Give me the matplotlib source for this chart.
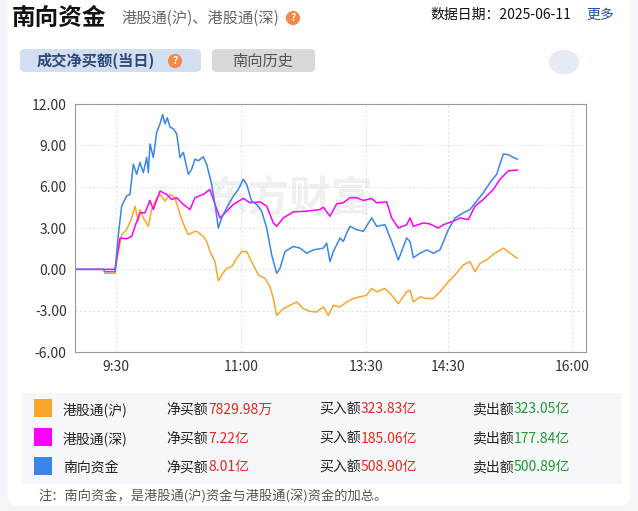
import matplotlib
matplotlib.use("Agg")
import matplotlib.pyplot as plt
from matplotlib.patches import FancyBboxPatch, Rectangle, Circle
import numpy as np

plt.rcParams["font.family"] = ["Noto Sans CJK SC", "DejaVu Sans"]

# time index (chart units) and values in 亿元
blue_x = [45, 130, 135, 165, 175, 185, 200, 210, 220, 230, 240, 250, 260, 265, 270, 280, 290, 300, 308, 315,
          322, 330, 340, 350, 360, 370, 385, 395, 405, 415, 430, 440, 455, 465, 475, 485, 500, 520, 535, 550,
          560, 575, 590, 605, 620, 635, 650, 660, 675, 700, 720, 740, 760, 790, 800, 810, 820, 840, 850, 860,
          870, 890, 910, 935, 950, 975, 995, 1015, 1040, 1050, 1060, 1080, 1100, 1120, 1140, 1165, 1185, 1210,
          1230, 1250, 1270, 1290, 1310, 1330, 1345, 1360, 1372]
blue_y = [0, 0, -0.17, -0.17, 2.51, 4.59, 5.32, 5.44, 7.63, 6.90, 7.76, 7.02, 8.12, 7.02, 9.10, 8.12, 9.95, 10.56,
          11.24, 10.56, 11.00, 10.32, 10.20, 9.83, 8.12, 8.49, 6.90, 7.27, 8.00, 7.88, 8.17, 7.63, 6.17, 4.71,
          3.00, 3.73, 4.46, 5.32, 5.80, 6.54, 6.17, 4.95, 4.71, 4.22, 3.00, 1.05, -0.29, 0.07, 1.29, 1.66, 1.54,
          1.17, 1.41, 1.54, 1.90, 0.56, 1.29, 2.27, 2.02, 2.63, 3.12, 2.88, 2.76, 3.73, 3.12, 3.24, 2.02, 0.68,
          2.27, 2.02, 0.85, 1.17, 1.41, 1.17, 1.41, 2.88, 3.73, 4.10, 4.34, 4.95, 5.56, 6.29, 6.90, 8.37, 8.32,
          8.12, 8.00]

pink_x = [45, 165, 180, 200, 215, 225, 240, 255, 270, 280, 300, 320, 335, 350, 370, 390, 405, 430, 450, 465,
          480, 500, 520, 550, 570, 600, 620, 640, 650, 670, 700, 740, 780, 790, 810, 830, 850, 870, 890, 910,
          935, 950, 980, 995, 1015, 1040, 1050, 1060, 1090, 1110, 1135, 1150, 1180, 1200, 1225, 1245, 1270,
          1300, 1320, 1345, 1372]
pink_y = [0, 0, 2.27, 2.22, 2.39, 3.12, 4.10, 4.10, 5.00, 4.34, 5.68, 5.44, 5.07, 5.20, 4.71, 4.34, 5.20, 5.44,
          5.80, 4.71, 3.73, 4.22, 4.71, 5.15, 4.83, 4.90, 4.59, 3.37, 3.12, 3.73, 4.17, 4.22, 4.34, 4.51, 3.85,
          4.76, 4.83, 5.20, 5.20, 5.00, 5.15, 4.83, 4.90, 3.73, 3.00, 3.24, 3.73, 3.12, 3.37, 3.29, 3.00, 3.24,
          3.49, 3.73, 3.61, 4.59, 5.07, 5.80, 6.54, 7.15, 7.20]

orange_x = [45, 130, 135, 165, 175, 185, 200, 215, 225, 235, 240, 250, 265, 275, 290, 300, 315, 330, 345, 360,
            375, 385, 400, 410, 430, 440, 450, 465, 475, 485, 500, 515, 530, 545, 560, 575, 595, 615, 630, 640,
            650, 670, 690, 710, 730, 750, 770, 790, 805, 820, 840, 860, 880, 900, 920, 935, 950, 975, 995, 1015,
            1040, 1050, 1060, 1080, 1100, 1120, 1140, 1165, 1185, 1210, 1230, 1245, 1260, 1280, 1300, 1330,
            1350, 1372]
orange_y = [0, 0, -0.29, -0.29, 1.29, 2.51, 2.88, 3.73, 4.59, 3.49, 4.34, 3.73, 3.12, 4.34, 5.20, 5.44, 4.95,
            5.44, 5.20, 3.98, 3.00, 2.51, 2.71, 2.76, 2.39, 2.02, 1.29, 0.56, -0.85, -0.41, 0.07, 0.20, 0.80,
            1.29, 1.29, 0.56, -0.41, -0.66, -1.27, -2.12, -3.34, -2.85, -2.61, -2.37, -2.85, -3.05, -3.10, -2.73,
            -3.34, -2.61, -2.73, -2.37, -2.12, -2.00, -1.88, -1.39, -1.63, -1.39, -1.88, -2.49, -1.63, -1.51,
            -2.37, -2.00, -2.12, -2.12, -1.63, -0.90, -0.41, 0.32, 0.56, -0.17, 0.44, 0.68, 1.10, 1.54, 1.17, 0.80]

tick_labels = ["9:30", "11:00", "13:30", "14:30", "16:00"]
tick_pos = [168, 543, 918, 1165, 1536]
y_ticks = [-6, -3, 0, 3, 6, 9, 12]

names = ["港股通(沪)", "港股通(深)", "南向资金"]
colors = ["#f9a72b", "#f0f", "#3a86e8"]
net_buy = ["7829.98万", "7.22亿", "8.01亿"]
buy_amt = ["323.83亿", "185.06亿", "508.90亿"]
sell_amt = ["323.05亿", "177.84亿", "500.89亿"]

fig = plt.figure(figsize=(6.38, 5.11), dpi=100)
fig.patch.set_facecolor("#f3f5f8")
card = FancyBboxPatch((0.012, 0.01), 0.976, 1.2, boxstyle="round,pad=0,rounding_size=0.02",
                      transform=fig.transFigure, facecolor="white", edgecolor="none", zorder=-10)
fig.patches.append(card)

ax = fig.add_axes([75/638, 1-352/511, (586-75)/638, (352-104)/511])
ax.set_zorder(5)
ax.patch.set_alpha(0)
ax.plot(orange_x, orange_y, color=colors[0], lw=1.1)
ax.plot(pink_x, pink_y, color=colors[1], lw=1.1)
ax.plot(blue_x, blue_y, color=colors[2], lw=1.1)
ax.set_xlim(45, 1578)
ax.set_ylim(-6, 12)
ax.set_xticks(tick_pos)
ax.set_xticklabels(tick_labels)
ax.set_yticks(y_ticks)
ax.set_yticklabels([f"{v:.2f}" for v in y_ticks])
ax.grid(True, color="#dde6f0", ls=(0, (2, 2)), lw=0.8)
for s in ax.spines.values():
    s.set_color("#999999")
ax.tick_params(length=0, labelsize=10, colors="#333333", pad=6)
ax.text(0.42, 0.62, "东方财富", transform=ax.transAxes, fontsize=30, color="#f0f0f0",
        fontweight="bold", ha="center", va="center", zorder=0)


def fy(p):
    return 1 - p / 511


def fx(p):
    return p / 638


def qmark(x, y):
    fig.text(fx(x), fy(y), "?", fontsize=7.5, color="white", ha="center", va="center", fontweight="bold",
             bbox=dict(boxstyle="circle,pad=0.2", fc="#f08a4b", ec="none"))


fig.text(fx(12), fy(18), "南向资金", fontsize=17, fontweight="bold", va="center", color="#111")
fig.text(fx(121), fy(18), "港股通(沪)、港股通(深)", fontsize=11, va="center", color="#666")
qmark(293, 18)
fig.text(fx(430), fy(15), "数据日期：2025-06-11", fontsize=10, va="center", color="#111")
fig.text(fx(586), fy(15), "更多", fontsize=10, va="center", color="#1a4fa0")

fig.patches.append(FancyBboxPatch((fx(20), fy(72)), 181/638, 23/511, boxstyle="round,pad=0,rounding_size=0.008",
                                  transform=fig.transFigure, facecolor="#d3dff0", edgecolor="none"))
fig.text(fx(37), fy(61), "成交净买额(当日)", fontsize=11, fontweight="bold", va="center", color="#2f4a7a")
qmark(175, 61)
fig.patches.append(FancyBboxPatch((fx(212), fy(72)), 103/638, 23/511, boxstyle="round,pad=0,rounding_size=0.008",
                                  transform=fig.transFigure, facecolor="#d9d9d9", edgecolor="none"))
fig.text(fx(263), fy(61), "南向历史", fontsize=11, va="center", ha="center", color="#555")
# expand icon
fig.patches.append(Circle((fx(564), fy(62)), 0.024, transform=fig.transFigure, facecolor="#e6ebf3",
                          edgecolor="none"))
for a, b in [((560, 58), (556, 54)), ((568, 66), (572, 70))]:
    fig.add_artist(matplotlib.patches.FancyArrowPatch((fx(a[0]), fy(a[1])), (fx(b[0]), fy(b[1])),
                                                      transform=fig.transFigure, arrowstyle="-|>,head_length=2.5,head_width=1.8",
                                                      color="#3a6ab0", lw=1.2))

fig.patches.append(Rectangle((fx(22), fy(484)), 600/638, 91/511, transform=fig.transFigure,
                             facecolor="#f5f7fa", edgecolor="none"))
for i, name in enumerate(names):
    yy = fy(408 + 29 * i)
    fig.patches.append(Rectangle((fx(34), yy - 9/511), 18/638, 18/511, transform=fig.transFigure,
                                 facecolor=colors[i], edgecolor="none"))
    fig.text(fx(63), yy, name, fontsize=10, va="center_baseline", color="#222")
    for x0, lab, val, c in [(166, "净买额", net_buy[i], "#e8281e"), (319, "买入额", buy_amt[i], "#e8281e"),
                            (472, "卖出额", sell_amt[i], "#1a9e2a")]:
        fig.text(fx(x0), yy, lab, fontsize=10, va="center_baseline", color="#222")
        fig.text(fx(x0 + 42), yy, val, fontsize=10, va="center_baseline", color=c)
fig.text(fx(38), fy(497), "注：南向资金，是港股通(沪)资金与港股通(深)资金的加总。", fontsize=9.5,
         va="center", color="#555")

fig.savefig("out.png", dpi=100, facecolor=fig.get_facecolor())
